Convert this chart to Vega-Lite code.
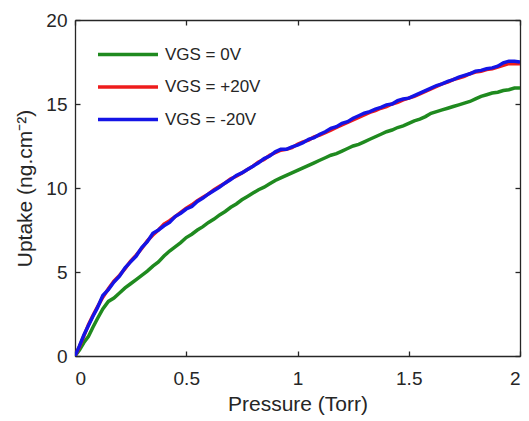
{
  "$schema": "https://vega.github.io/schema/vega-lite/v6.json",
  "width": 445,
  "height": 336,
  "autosize": {"type": "none"},
  "padding": {"left": 75, "top": 20, "right": 9, "bottom": 65},
  "config": {
    "view": {"stroke": null},
    "font": "Liberation Sans",
    "axis": {"grid": false, "domainColor": "#262626", "tickColor": "#262626", "labelColor": "#262626", "titleColor": "#262626", "labelFont": "Liberation Sans", "titleFont": "Liberation Sans", "labelFontSize": 19, "titleFontSize": 21, "titleFontWeight": "normal", "domainWidth": 1.3, "tickWidth": 1.3, "tickSize": 5}
  },
  "data": {"values": [
    {"p": 0, "g": 0, "r": 0, "b": 0},
    {"p": 0.02, "g": 0.35, "r": 0.55, "b": 0.6},
    {"p": 0.04, "g": 0.8, "r": 1.2, "b": 1.25},
    {"p": 0.06, "g": 1.15, "r": 1.85, "b": 1.8},
    {"p": 0.08, "g": 1.7, "r": 2.4, "b": 2.35},
    {"p": 0.1, "g": 2.2, "r": 2.9, "b": 2.85},
    {"p": 0.125, "g": 2.8, "r": 3.5, "b": 3.6},
    {"p": 0.15, "g": 3.25, "r": 4.0, "b": 3.95},
    {"p": 0.175, "g": 3.45, "r": 4.45, "b": 4.4},
    {"p": 0.2, "g": 3.75, "r": 4.8, "b": 4.75},
    {"p": 0.225, "g": 4.05, "r": 5.2, "b": 5.25},
    {"p": 0.25, "g": 4.3, "r": 5.65, "b": 5.6},
    {"p": 0.275, "g": 4.55, "r": 6.0, "b": 5.95},
    {"p": 0.3, "g": 4.8, "r": 6.4, "b": 6.45},
    {"p": 0.325, "g": 5.05, "r": 6.85, "b": 6.8},
    {"p": 0.35, "g": 5.35, "r": 7.2, "b": 7.3},
    {"p": 0.375, "g": 5.6, "r": 7.5, "b": 7.5},
    {"p": 0.4, "g": 5.95, "r": 7.85, "b": 7.75},
    {"p": 0.425, "g": 6.25, "r": 8.05, "b": 7.95},
    {"p": 0.45, "g": 6.5, "r": 8.3, "b": 8.3},
    {"p": 0.475, "g": 6.75, "r": 8.55, "b": 8.5},
    {"p": 0.5, "g": 7.05, "r": 8.8, "b": 8.75},
    {"p": 0.525, "g": 7.25, "r": 9.0, "b": 8.9},
    {"p": 0.55, "g": 7.5, "r": 9.25, "b": 9.2},
    {"p": 0.575, "g": 7.7, "r": 9.45, "b": 9.4},
    {"p": 0.6, "g": 7.95, "r": 9.65, "b": 9.65},
    {"p": 0.625, "g": 8.15, "r": 9.9, "b": 9.85},
    {"p": 0.65, "g": 8.4, "r": 10.1, "b": 10.05},
    {"p": 0.675, "g": 8.6, "r": 10.3, "b": 10.3},
    {"p": 0.7, "g": 8.85, "r": 10.55, "b": 10.5},
    {"p": 0.725, "g": 9.05, "r": 10.7, "b": 10.75},
    {"p": 0.75, "g": 9.3, "r": 10.9, "b": 10.9},
    {"p": 0.775, "g": 9.5, "r": 11.1, "b": 11.1},
    {"p": 0.8, "g": 9.7, "r": 11.3, "b": 11.3},
    {"p": 0.825, "g": 9.9, "r": 11.55, "b": 11.5},
    {"p": 0.85, "g": 10.05, "r": 11.7, "b": 11.75},
    {"p": 0.875, "g": 10.25, "r": 11.95, "b": 11.9},
    {"p": 0.9, "g": 10.45, "r": 12.1, "b": 12.15},
    {"p": 0.925, "g": 10.6, "r": 12.25, "b": 12.3},
    {"p": 0.95, "g": 10.75, "r": 12.3, "b": 12.3},
    {"p": 0.975, "g": 10.9, "r": 12.4, "b": 12.45},
    {"p": 1.0, "g": 11.05, "r": 12.6, "b": 12.55},
    {"p": 1.025, "g": 11.2, "r": 12.75, "b": 12.7},
    {"p": 1.05, "g": 11.35, "r": 12.85, "b": 12.9},
    {"p": 1.075, "g": 11.5, "r": 13.05, "b": 13.0},
    {"p": 1.1, "g": 11.65, "r": 13.15, "b": 13.2},
    {"p": 1.125, "g": 11.8, "r": 13.3, "b": 13.35},
    {"p": 1.15, "g": 11.95, "r": 13.45, "b": 13.55},
    {"p": 1.175, "g": 12.05, "r": 13.6, "b": 13.65},
    {"p": 1.2, "g": 12.2, "r": 13.75, "b": 13.85},
    {"p": 1.225, "g": 12.35, "r": 13.9, "b": 13.95},
    {"p": 1.25, "g": 12.5, "r": 14.05, "b": 14.15},
    {"p": 1.275, "g": 12.6, "r": 14.2, "b": 14.3},
    {"p": 1.3, "g": 12.75, "r": 14.35, "b": 14.45},
    {"p": 1.325, "g": 12.9, "r": 14.5, "b": 14.55},
    {"p": 1.35, "g": 13.05, "r": 14.6, "b": 14.7},
    {"p": 1.375, "g": 13.2, "r": 14.75, "b": 14.8},
    {"p": 1.4, "g": 13.35, "r": 14.85, "b": 14.95},
    {"p": 1.425, "g": 13.45, "r": 15.0, "b": 15.0},
    {"p": 1.45, "g": 13.6, "r": 15.1, "b": 15.2},
    {"p": 1.475, "g": 13.7, "r": 15.25, "b": 15.3},
    {"p": 1.5, "g": 13.85, "r": 15.35, "b": 15.35},
    {"p": 1.525, "g": 14.0, "r": 15.45, "b": 15.5},
    {"p": 1.55, "g": 14.1, "r": 15.6, "b": 15.65},
    {"p": 1.575, "g": 14.25, "r": 15.75, "b": 15.8},
    {"p": 1.6, "g": 14.45, "r": 15.9, "b": 15.95},
    {"p": 1.625, "g": 14.55, "r": 16.05, "b": 16.1},
    {"p": 1.65, "g": 14.65, "r": 16.2, "b": 16.2},
    {"p": 1.675, "g": 14.75, "r": 16.3, "b": 16.35},
    {"p": 1.7, "g": 14.85, "r": 16.45, "b": 16.45},
    {"p": 1.725, "g": 14.95, "r": 16.55, "b": 16.6},
    {"p": 1.75, "g": 15.05, "r": 16.65, "b": 16.7},
    {"p": 1.775, "g": 15.15, "r": 16.8, "b": 16.8},
    {"p": 1.8, "g": 15.3, "r": 16.9, "b": 16.95},
    {"p": 1.825, "g": 15.45, "r": 16.95, "b": 17.0},
    {"p": 1.85, "g": 15.55, "r": 17.05, "b": 17.1},
    {"p": 1.875, "g": 15.65, "r": 17.1, "b": 17.15},
    {"p": 1.9, "g": 15.7, "r": 17.2, "b": 17.25},
    {"p": 1.925, "g": 15.8, "r": 17.3, "b": 17.45},
    {"p": 1.95, "g": 15.85, "r": 17.4, "b": 17.55},
    {"p": 1.975, "g": 15.95, "r": 17.4, "b": 17.55},
    {"p": 2.0, "g": 15.95, "r": 17.4, "b": 17.5}
  ]},
  "transform": [{"fold": ["g", "r", "b"], "as": ["series", "uptake"]}],
  "layer": [
    {
      "mark": {"type": "line", "strokeWidth": 3.5, "clip": true},
      "encoding": {
        "x": {"field": "p", "type": "quantitative", "scale": {"domain": [0, 2], "nice": false}, "axis": {"orient": "bottom", "title": "Pressure (Torr)", "values": [0, 0.5, 1, 1.5, 2], "format": "~g", "ticks": false, "labelPadding": 13, "titlePadding": 5}},
        "y": {"field": "uptake", "type": "quantitative", "scale": {"domain": [0, 20], "nice": false}, "axis": {"orient": "left", "title": "Uptake (ng.cm⁻²)", "values": [0, 5, 10, 15, 20], "ticks": false, "labelPadding": 8, "titlePadding": 10}},
        "color": {"field": "series", "type": "nominal", "scale": {"domain": ["g", "r", "b"], "range": ["#1f8a1f", "#ee1c1c", "#1414e6"]},
          "legend": {"title": null, "orient": "none", "legendX": 21, "legendY": 26, "symbolType": "stroke", "symbolSize": 3600, "symbolStrokeWidth": 3.5, "clipHeight": 17, "rowPadding": 14.5, "labelFontSize": 17, "labelFont": "Liberation Sans", "labelColor": "#262626", "labelOffset": 5,
            "labelExpr": "datum.value == 'g' ? 'VGS = 0V' : datum.value == 'r' ? 'VGS = +20V' : 'VGS = -20V'"}}
      }
    },
    {
      "mark": {"type": "line", "opacity": 0},
      "encoding": {
        "x": {"field": "p", "type": "quantitative", "axis": {"orient": "top", "offset": -336, "title": null, "labels": false, "domain": false, "values": [0, 0.5, 1, 1.5, 2]}},
        "y": {"field": "uptake", "type": "quantitative", "axis": {"orient": "right", "offset": -445, "title": null, "labels": false, "domain": false, "values": [0, 5, 10, 15, 20]}}
      }
    },
    {
      "mark": {"type": "line", "opacity": 0},
      "encoding": {
        "x": {"field": "p", "type": "quantitative", "axis": {"orient": "bottom", "offset": -336, "title": null, "labels": false, "values": [0, 0.5, 1, 1.5, 2]}},
        "y": {"field": "uptake", "type": "quantitative", "axis": {"orient": "left", "offset": -445, "title": null, "labels": false, "values": [0, 5, 10, 15, 20]}}
      }
    }
  ],
  "resolve": {"axis": {"x": "independent", "y": "independent"}}
}
